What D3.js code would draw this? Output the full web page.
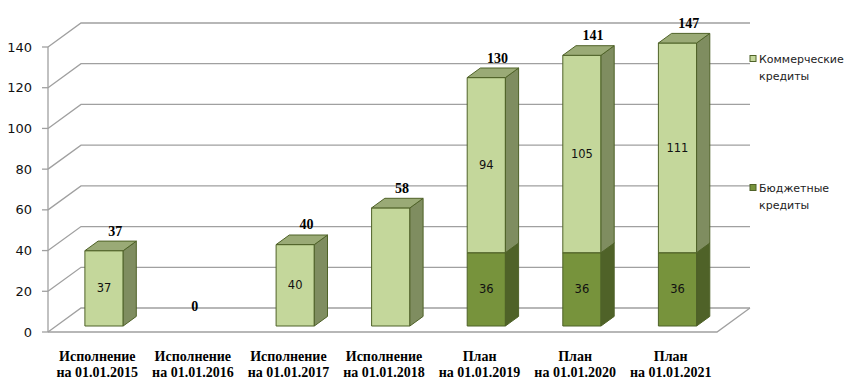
<!doctype html>
<html lang="ru">
  <head>
    <meta charset="utf-8">
    <title>Кредиты</title>
    <script src="https://d3js.org/d3.v7.min.js"></script>
    <style>
      body { margin: 0; background: #fff; }
    </style>
  </head>

  <body>
    <svg width="845" height="387"></svg>

    <script>
      // data
      var categories = [
        ['Исполнение', 'на 01.01.2015'],
        ['Исполнение', 'на 01.01.2016'],
        ['Исполнение', 'на 01.01.2017'],
        ['Исполнение', 'на 01.01.2018'],
        ['План', 'на 01.01.2019'],
        ['План', 'на 01.01.2020'],
        ['План', 'на 01.01.2021']
      ];
      // heights as drawn
      var budget     = [0, 0, 0, 0, 36, 36, 36];
      var commercial = [37, 0, 40, 58, 86, 97, 103];
      // label texts as printed on the chart
      var budgetLabels     = ['', '', '', '', '36', '36', '36'];
      var commercialLabels = ['37', '', '40', '', '94', '105', '111'];
      var totalLabels      = ['37', '0', '40', '58', '130', '141', '147'];
      var yTicks = [0, 20, 40, 60, 80, 100, 120, 140];
      var seriesNames = [['Коммерческие', 'кредиты'], ['Бюджетные', 'кредиты']];

      var svg = d3.select('svg');

      var depth = { dx: 33, dy: -24 };
      var barFront = 0.25, barDepth = 0.4;

      var x = d3.scaleBand()
        .domain(d3.range(categories.length))
        .range([48, 717])
        .paddingInner(0.6)
        .paddingOuter(0.3);

      var y = d3.scaleLinear().domain([0, 140]).range([332, 47]);

      var pt = function(px, v, d){
        return [px + d * depth.dx, y(v) + d * depth.dy];
      };
      var poly = function(pts){
        return 'M' + pts.map(function(p){ return p[0].toFixed(1) + ',' + p[1].toFixed(1); }).join('L') + 'Z';
      };

      var grid = svg.append('g')
        .attr('stroke', '#a0a0a0')
        .attr('stroke-width', 1.3)
        .attr('fill', 'none');

      // back wall lines and side wall diagonals
      yTicks.forEach(function(t){
        var a = pt(48, t, 0), b = pt(48, t, 1), c = pt(717, t, 1);
        grid.append('path').attr('d', 'M' + a + 'L' + b + 'L' + c);
      });
      // floor front edge
      var f0 = pt(48, 0, 0), f1 = pt(717, 0, 0), f2 = pt(717, 0, 1);
      grid.append('path').attr('d', 'M' + f0 + 'L' + f1 + 'L' + f2);
      // value axis
      grid.append('path').attr('d', 'M' + pt(48, 0, 0) + 'L' + pt(48, 140, 0));

      var axis = svg.append('g');
      yTicks.forEach(function(t){
        axis.append('line')
          .attr('x1', 42).attr('x2', 48)
          .attr('y1', y(t)).attr('y2', y(t))
          .attr('stroke', '#a0a0a0').attr('stroke-width', 1.3);
        axis.append('text')
          .attr('x', 32).attr('y', y(t))
          .attr('text-anchor', 'end')
          .attr('dominant-baseline', 'central')
          .style('font', '13px "DejaVu Sans"')
          .style('fill', '#111')
          .text(t);
      });

      var styles = [
        { front: '#77933c', side: '#4f6228', top: '#627a30' },
        { front: '#c4d79b', side: '#7f8d60', top: '#9aaa76' }
      ];

      var bars = svg.append('g').attr('stroke', '#4f6228').attr('stroke-width', 1);

      var drawBlock = function(i, v0, v1, st){
        var xl = x(i), xr = x(i) + x.bandwidth();
        var d0 = barFront, d1 = barFront + barDepth;
        bars.append('path').attr('fill', st.front)
          .attr('d', poly([pt(xl, v0, d0), pt(xr, v0, d0), pt(xr, v1, d0), pt(xl, v1, d0)]));
        bars.append('path').attr('fill', st.side)
          .attr('d', poly([pt(xr, v0, d0), pt(xr, v0, d1), pt(xr, v1, d1), pt(xr, v1, d0)]));
        bars.append('path').attr('fill', st.top)
          .attr('d', poly([pt(xl, v1, d0), pt(xr, v1, d0), pt(xr, v1, d1), pt(xl, v1, d1)]));
      };

      var labelInside = function(i, v0, v1, txt){
        if (!txt) return;
        var c = pt(x(i) + x.bandwidth() / 2, (v0 + v1) / 2, barFront);
        svg.append('text')
          .attr('x', c[0]).attr('y', c[1])
          .attr('text-anchor', 'middle')
          .attr('dominant-baseline', 'central')
          .style('font', '11.5px "DejaVu Sans"')
          .style('fill', '#111')
          .text(txt);
      };

      categories.forEach(function(cat, i){
        var b = budget[i], c = commercial[i];
        if (b > 0) drawBlock(i, 0, b, styles[0]);
        if (c > 0) drawBlock(i, b, b + c, styles[1]);
        labelInside(i, 0, b, budgetLabels[i]);
        labelInside(i, b, b + c, commercialLabels[i]);

        var tot = b + c;
        var tp = pt(x(i) + x.bandwidth() / 2, tot, barFront + barDepth);
        svg.append('text')
          .attr('x', tp[0] + (tot > 0 ? -2 : -18))
          .attr('y', tp[1] - 10)
          .attr('text-anchor', 'middle')
          .attr('dominant-baseline', 'central')
          .style('font', 'bold 14px "Liberation Serif"')
          .style('fill', '#000')
          .text(totalLabels[i]);

        var lx = x(i) + x.bandwidth() / 2 + 1.5;
        var t = svg.append('text')
          .attr('text-anchor', 'middle')
          .style('font', 'bold 14px "Liberation Serif"')
          .style('fill', '#000');
        t.append('tspan').attr('x', lx).attr('y', 361).text(cat[0]);
        t.append('tspan').attr('x', lx).attr('y', 377).text(cat[1]);
      });

      // legend
      var legendY = [59, 188];
      seriesNames.forEach(function(name, k){
        var st = styles[1 - k];
        svg.append('rect')
          .attr('x', 750).attr('y', legendY[k] - 3.5)
          .attr('width', 6).attr('height', 6)
          .attr('fill', st.front)
          .attr('stroke', '#4f6228').attr('stroke-width', 1);
        var t = svg.append('text').style('font', '11px "DejaVu Sans"').style('fill', '#222');
        t.append('tspan').attr('x', 759).attr('y', legendY[k] + 4).text(name[0]);
        t.append('tspan').attr('x', 759).attr('y', legendY[k] + 21).text(name[1]);
      });
    </script>
  </body>
</html>
